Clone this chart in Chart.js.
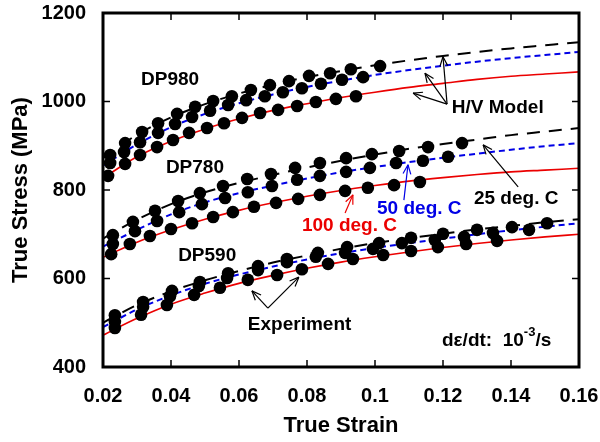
<!DOCTYPE html>
<html>
<head>
<meta charset="utf-8">
<script src="https://cdn.jsdelivr.net/npm/chart.js@4/dist/chart.umd.min.js"></script>
<style>
  html, body { margin: 0; padding: 0; background: #fff; }
</style>
</head>
<body>
<canvas id="stressChart" width="600" height="442"></canvas>
<script>
// Model curves (H/V model), read at a fixed strain grid
var strainGrid = [0.02, 0.03, 0.04, 0.05, 0.06, 0.07, 0.08, 0.09, 0.10, 0.11, 0.12, 0.13, 0.14, 0.15, 0.16];

var dp980Model25 = [872, 925, 964, 994, 1018, 1038, 1055, 1069, 1082, 1093, 1103, 1112, 1120, 1127, 1134];
var dp980Model50 = [855, 903, 942, 972, 996, 1016, 1033, 1047, 1060, 1071, 1081, 1090, 1098, 1105, 1112];
var dp980Model100 = [827, 875, 910, 938, 961, 980, 995, 1009, 1021, 1032, 1041, 1050, 1057, 1062, 1067];

var dp780Model25 = [690, 733, 768, 795, 816, 834, 851, 866, 880, 893, 904, 914, 924, 932, 940];
var dp780Model50 = [672, 710, 745, 772, 793, 810, 826, 840, 852, 863, 873, 882, 891, 899, 906];
var dp780Model100 = [648, 682, 710, 734, 754, 771, 786, 799, 810, 820, 828, 835, 841, 845, 849];

var dp590Model25 = [500, 540, 571, 596, 617, 636, 652, 667, 680, 691, 701, 711, 719, 727, 734];
var dp590Model50 = [490, 530, 562, 588, 609, 627, 643, 657, 669, 680, 690, 700, 709, 717, 725];
var dp590Model100 = [472, 510, 542, 567, 589, 607, 623, 637, 649, 660, 670, 679, 687, 694, 700];

// Experiment points
var dp980Strain25 = [0.0221, 0.0265, 0.0315, 0.0362, 0.0418, 0.0471, 0.0524, 0.0579, 0.0635, 0.0691, 0.0747, 0.0806, 0.0868, 0.0929, 0.1015];
var dp980Stress25 = [879, 906, 931, 951, 972, 988, 1001, 1012, 1026, 1037, 1046, 1058, 1064, 1073, 1080];
var dp980Strain50 = [0.0221, 0.0262, 0.0309, 0.0362, 0.0412, 0.0462, 0.0515, 0.0568, 0.0621, 0.0676, 0.0729, 0.0785, 0.0841, 0.0903, 0.0965];
var dp980Stress50 = [861, 886, 908, 929, 949, 965, 979, 992, 1003, 1012, 1021, 1030, 1040, 1049, 1055];
var dp980Strain100 = [0.0215, 0.0265, 0.0309, 0.0359, 0.0406, 0.0453, 0.0506, 0.0556, 0.0609, 0.0662, 0.0715, 0.0771, 0.0826, 0.0885, 0.0944];
var dp980Stress100 = [832, 859, 879, 897, 913, 929, 940, 951, 963, 974, 981, 990, 999, 1006, 1012];

var dp780Strain25 = [0.0229, 0.0288, 0.0353, 0.0421, 0.0485, 0.0553, 0.0624, 0.0694, 0.0765, 0.0838, 0.0915, 0.0991, 0.1071, 0.1156, 0.1256];
var dp780Stress25 = [698, 728, 753, 775, 793, 809, 825, 836, 850, 861, 872, 881, 888, 897, 906];
var dp780Strain50 = [0.0229, 0.0294, 0.0359, 0.0424, 0.0491, 0.0559, 0.0626, 0.0697, 0.0771, 0.0838, 0.0915, 0.0985, 0.1062, 0.1141, 0.1215];
var dp780Stress50 = [678, 707, 730, 750, 768, 782, 795, 809, 823, 832, 841, 850, 861, 866, 875];
var dp780Strain100 = [0.0224, 0.0279, 0.0338, 0.0400, 0.0462, 0.0524, 0.0582, 0.0644, 0.0709, 0.0774, 0.0838, 0.0912, 0.0979, 0.1056, 0.1132];
var dp780Stress100 = [655, 678, 696, 712, 725, 739, 750, 762, 771, 780, 789, 798, 805, 811, 818];

var dp590Strain25 = [0.0235, 0.0318, 0.0403, 0.0485, 0.0568, 0.0656, 0.0741, 0.0832, 0.0918, 0.1012, 0.1106, 0.1200, 0.1300, 0.1403, 0.1506];
var dp590Stress25 = [517, 547, 572, 592, 612, 628, 644, 658, 671, 680, 692, 701, 710, 716, 725];
var dp590Strain50 = [0.0235, 0.0318, 0.0397, 0.0482, 0.0565, 0.0656, 0.0741, 0.0826, 0.0912, 0.0994, 0.1079, 0.1176, 0.1262, 0.1347, 0.1453];
var dp590Stress50 = [502, 536, 560, 583, 601, 619, 637, 649, 658, 667, 680, 687, 694, 703, 710];
var dp590Strain100 = [0.0235, 0.0312, 0.0388, 0.0468, 0.0544, 0.0626, 0.0712, 0.0785, 0.0862, 0.0935, 0.1024, 0.1106, 0.1185, 0.1268, 0.1359];
var dp590Stress100 = [488, 518, 540, 563, 579, 597, 608, 621, 633, 644, 653, 662, 671, 678, 685];

var black = "#000000";
var blue = "rgb(0, 0, 230)";
var red = "rgb(235, 0, 0)";
var fontName = "'Liberation Sans', Arial, sans-serif";

// text notes and arrows, in data units
var notes = [
  { text: "DP980", x: 0.0312, y: 1049, color: black },
  { text: "DP780", x: 0.0385, y: 850, color: black },
  { text: "DP590", x: 0.0421, y: 651, color: black },
  { text: "H/V Model", x: 0.1226, y: 985, color: black },
  { text: "25 deg. C", x: 0.1291, y: 780, color: black },
  { text: "50 deg. C", x: 0.1006, y: 757, color: blue },
  { text: "100 deg. C", x: 0.0785, y: 719, color: red },
  { text: "Experiment", x: 0.0626, y: 495, color: black }
];
var arrows = [
  { from: [0.1212, 994], to: [0.1112, 1019], color: black },
  { from: [0.1212, 994], to: [0.1147, 1064], color: black },
  { from: [0.1212, 994], to: [0.1200, 1101], color: black },
  { from: [0.1421, 807], to: [0.1318, 902], color: black },
  { from: [0.1085, 777], to: [0.1097, 857], color: blue },
  { from: [0.0912, 748], to: [0.0935, 789], color: red },
  { from: [0.0685, 533], to: [0.0638, 572], color: black },
  { from: [0.0685, 533], to: [0.0776, 603], color: black }
];

function pts(xs, ys) {
  return xs.map(function (x, i) { return { x: x, y: ys[i] }; });
}

function modelSet(vals, color, dash, width) {
  return {
    data: pts(strainGrid, vals),
    showLine: true,
    borderColor: color,
    borderDash: dash,
    borderWidth: width,
    pointRadius: 0,
    cubicInterpolationMode: "monotone",
    order: 2,
  };
}

function expSet(xs, ys) {
  return {
    data: pts(xs, ys),
    showLine: false,
    pointRadius: 6.3,
    backgroundColor: black,
    borderColor: black,
    borderWidth: 0,
    order: 1,
  };
}

var frameAndNotes = {
  id: "frameAndNotes",
  afterDraw: function (chart) {
    var ctx = chart.ctx;
    var xs = chart.scales.x, ys = chart.scales.y;
    var a = chart.chartArea;
    function line(x0, y0, x1, y1) {
      ctx.beginPath(); ctx.moveTo(x0, y0); ctx.lineTo(x1, y1); ctx.stroke();
    }
    ctx.save();
    ctx.strokeStyle = black;
    ctx.lineWidth = 1.5;
    xs.ticks.forEach(function (t) {
      var x = xs.getPixelForValue(t.value);
      line(x, a.bottom, x, a.bottom - 7);
      line(x, a.top, x, a.top + 7);
    });
    ys.ticks.forEach(function (t) {
      var y = ys.getPixelForValue(t.value);
      line(a.left, y, a.left + 7, y);
      line(a.right, y, a.right - 7, y);
    });
    ctx.lineWidth = 3;
    ctx.strokeRect(a.left, a.top, a.right - a.left, a.bottom - a.top);

    ctx.font = "bold 19px " + fontName;
    ctx.textBaseline = "middle";
    ctx.textAlign = "left";
    notes.forEach(function (n) {
      ctx.fillStyle = n.color;
      ctx.fillText(n.text, xs.getPixelForValue(n.x), ys.getPixelForValue(n.y));
    });

    // rate label with superscript
    var rx = xs.getPixelForValue(0.1197), ry = ys.getPixelForValue(459);
    ctx.fillStyle = black;
    var part1 = "d\u03b5/dt:  10";
    ctx.fillText(part1, rx, ry);
    rx += ctx.measureText(part1).width;
    ctx.font = "bold 13px " + fontName;
    ctx.fillText("-3", rx, ry - 8);
    rx += ctx.measureText("-3").width;
    ctx.font = "bold 19px " + fontName;
    ctx.fillText("/s", rx, ry);

    ctx.lineWidth = 1.2;
    arrows.forEach(function (ar) {
      var x0 = xs.getPixelForValue(ar.from[0]), y0 = ys.getPixelForValue(ar.from[1]);
      var x1 = xs.getPixelForValue(ar.to[0]), y1 = ys.getPixelForValue(ar.to[1]);
      ctx.strokeStyle = ar.color;
      line(x0, y0, x1, y1);
      var ang = Math.atan2(y1 - y0, x1 - x0);
      var h = 10, s = 0.4;
      line(x1, y1, x1 - h * Math.cos(ang - s), y1 - h * Math.sin(ang - s));
      line(x1, y1, x1 - h * Math.cos(ang + s), y1 - h * Math.sin(ang + s));
    });
    ctx.restore();
  }
};

new Chart(document.getElementById("stressChart"), {
  type: "scatter",
  data: {
    datasets: [
      modelSet(dp980Model25, black, [13, 9], 2),
      modelSet(dp980Model50, blue, [6, 4], 2),
      modelSet(dp980Model100, red, [], 1.6),
      modelSet(dp780Model25, black, [13, 9], 2),
      modelSet(dp780Model50, blue, [6, 4], 2),
      modelSet(dp780Model100, red, [], 1.6),
      modelSet(dp590Model25, black, [13, 9], 2),
      modelSet(dp590Model50, blue, [6, 4], 2),
      modelSet(dp590Model100, red, [], 1.6),
      expSet(dp980Strain25, dp980Stress25),
      expSet(dp980Strain50, dp980Stress50),
      expSet(dp980Strain100, dp980Stress100),
      expSet(dp780Strain25, dp780Stress25),
      expSet(dp780Strain50, dp780Stress50),
      expSet(dp780Strain100, dp780Stress100),
      expSet(dp590Strain25, dp590Stress25),
      expSet(dp590Strain50, dp590Stress50),
      expSet(dp590Strain100, dp590Stress100),
    ],
  },
  options: {
    responsive: false,
    animation: false,
    layout: { padding: { top: 13, right: 21, left: 0, bottom: 0 } },
    plugins: {
      legend: { display: false },
      tooltip: { enabled: false },
    },
    scales: {
      x: {
        type: "linear",
        min: 0.02,
        max: 0.16,
        afterFit: function (scale) {
          scale.height = 75;
          scale.paddingLeft = 0;
          scale.paddingRight = 0;
        },
        grid: { display: false },
        border: { display: false },
        ticks: {
          stepSize: 0.02,
          autoSkip: false,
          maxRotation: 0,
          padding: 9,
          color: black,
          font: { family: fontName, size: 20, weight: "bold" },
          callback: function (v) { return String(Number(v.toFixed(2))); },
        },
        title: {
          display: true,
          text: "True Strain",
          color: black,
          font: { family: fontName, size: 22, weight: "bold" },
          padding: { top: 0, bottom: 3 },
        },
      },
      y: {
        min: 400,
        max: 1200,
        afterFit: function (scale) {
          scale.width = 103;
          scale.paddingTop = 0;
          scale.paddingBottom = 0;
        },
        grid: { display: false },
        border: { display: false },
        ticks: {
          stepSize: 200,
          padding: 9,
          color: black,
          font: { family: fontName, size: 20, weight: "bold" },
          callback: function (v) { return String(v); },
        },
        title: {
          display: true,
          text: "True Stress (MPa)",
          color: black,
          font: { family: fontName, size: 22, weight: "bold" },
          padding: { top: 8, bottom: 0 },
        },
      },
    },
  },
  plugins: [frameAndNotes],
});
</script>
</body>
</html>
